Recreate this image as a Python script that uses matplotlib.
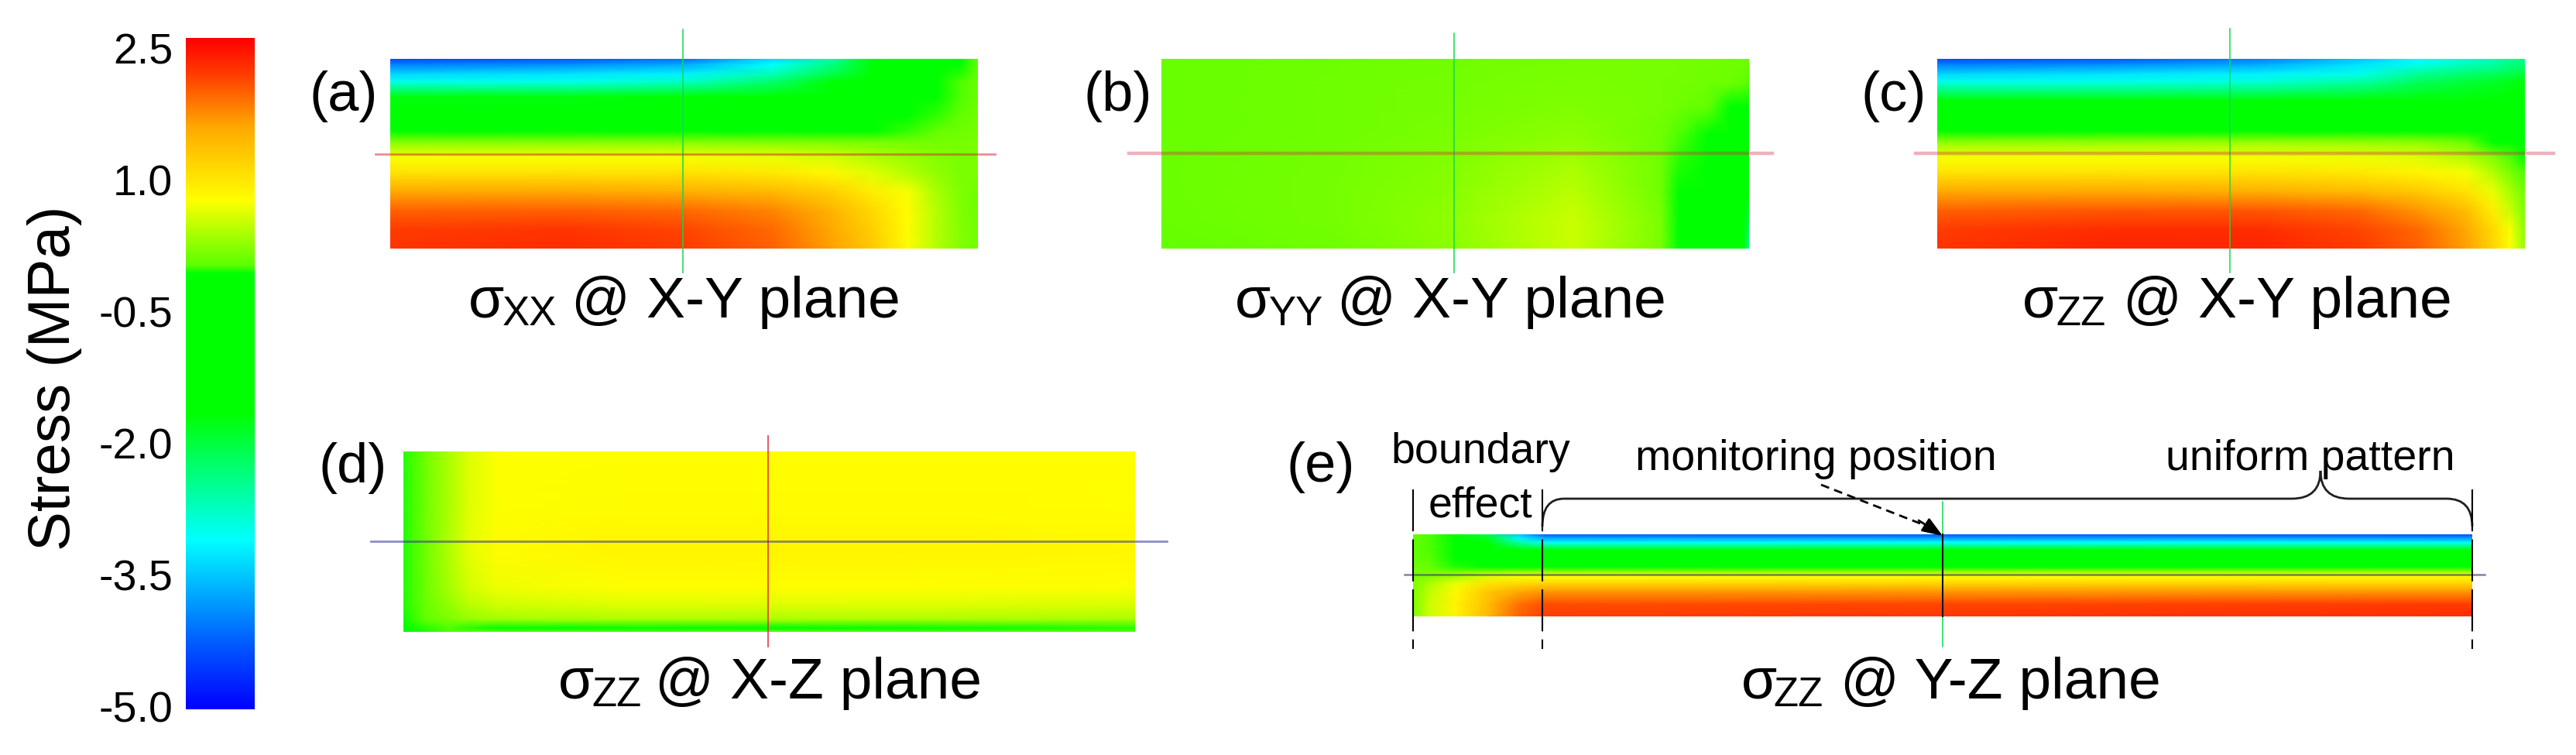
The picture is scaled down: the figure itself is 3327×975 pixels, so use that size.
"""
Stress maps in a cross section, five panels with one shared colour bar
"""

import numpy as np
import matplotlib
matplotlib.use('Agg')
import matplotlib.pyplot as plt
from matplotlib.colors import LinearSegmentedColormap, Normalize
from matplotlib.patches import PathPatch
from matplotlib.path import Path

plt.rcParams['font.family'] = ['Liberation Sans', 'DejaVu Sans']

W, H = 3327, 975

# Colour bar
stress_ticks = [2.5, 1.0, -0.5, -2.0, -3.5, -5.0]
stress_labels = ['2.5', '1.0', '-0.5', '-2.0', '-3.5', '-5.0']
cmap_values = [-5.0, -4.2, -3.11, -1.68, -0.13, -0.04, 0.69, 1.5, 2.1, 2.5]
cmap_colors = ['#0000ff', '#0064ff', '#00ffff', '#00ff00', '#00ff00', '#5aff00',
               '#ffff00', '#ffaa00', '#ff3c00', '#ff0000']

# Panel (a) sigma xx, X-Y plane
xa = [0, .3, .5, .65, .75, .82, .88, .93, .97, 1]
ya = [0, .03, .08, .12, .2, .3, .38, .44, .52, .6, .7, .8, .9, 1]
za = [[-4.4, -4.3, -4.1, -3.4, -2.6, -1.7, -1.3, -1.0, -.4, 0],
      [-4.0, -3.9, -3.7, -3.1, -2.4, -1.7, -1.2, -.9, -.2, 0],
      [-3.4, -3.3, -3.2, -2.7, -2.1, -1.5, -1.1, -.8, -.1, 0],
      [-3.0, -3.0, -2.8, -2.3, -1.7, -1.3, -.9, -.6, -.05, .02],
      [-1.75, -1.75, -1.7, -1.4, -1.1, -.9, -.7, -.4, -.05, .03],
      [-.9, -.9, -.85, -.75, -.65, -.55, -.4, -.08, 0, .05],
      [-.3, -.28, -.25, -.13, -.13, -.13, -.08, 0, .05, .08],
      [.15, .15, .15, .14, .12, .1, .08, .07, .08, .1],
      [.65, .65, .65, .6, .5, .35, .25, .15, .1, .1],
      [.95, .95, .95, .9, .75, .55, .35, .2, .1, .1],
      [1.5, 1.5, 1.45, 1.35, 1.15, .85, .65, .3, .12, .05],
      [1.9, 1.9, 1.85, 1.7, 1.4, 1.05, .72, .35, .12, .05],
      [2.1, 2.15, 2.05, 1.85, 1.5, 1.15, .72, .35, .14, .05],
      [2.15, 2.2, 2.1, 1.9, 1.55, 1.2, .72, .35, .14, .05]]

# Panel (b) sigma yy, X-Y plane
xb = [0, .3, .5, .7, .85, .88, .93, .97, .99, 1]
yb = [0, .13, .25, .4, .55, .7, .85, 1]
zb = [[.02, .04, .06, .08, .08, .08, .07, .06, .05, .03],
      [.02, .05, .07, .1, .08, .07, .05, .03, 0, -.05],
      [.02, .05, .08, .12, .08, .05, 0, -.2, -.3, -.4],
      [.02, .05, .1, .18, .05, -.05, -.3, -.5, -.5, -.6],
      [.03, .07, .14, .3, .05, -.1, -.5, -.7, -.7, -.9],
      [.03, .08, .17, .38, .05, -.13, -.6, -.8, -.9, -1.3],
      [.02, .08, .2, .45, .1, -.13, -.7, -.9, -1.1, -2.0],
      [0, .05, .18, .45, .1, -.13, -.7, -1.0, -1.3, -2.5]]

# Panel (c) sigma zz, X-Y plane
xc = [0, .3, .55, .72, .82, .9, .945, .975, 1]
yc = [0, .03, .08, .12, .22, .3, .38, .44, .52, .6, .7, .8, .9, 1]
zc = [[-4.4, -4.3, -4.0, -3.5, -3.1, -2.9, -2.7, -2.5, -2.4],
      [-4.0, -3.9, -3.7, -3.3, -3.0, -2.7, -2.6, -2.4, -2.3],
      [-3.4, -3.3, -3.2, -3.0, -2.5, -2.3, -2.2, -2.1, -2.0],
      [-3.0, -3.0, -2.9, -2.6, -2.2, -2.0, -1.9, -1.8, -1.7],
      [-1.7, -1.7, -1.7, -1.6, -1.4, -1.3, -1.2, -1.1, -1.1],
      [-.9, -.9, -.9, -.9, -.85, -.8, -.8, -.8, -.8],
      [-.2, -.15, -.13, -.13, -.13, -.3, -.5, -.6, -.6],
      [.2, .22, .25, .22, .2, .05, -.13, -.3, -.4],
      [.65, .65, .65, .62, .55, .35, .15, -.05, -.15],
      [.95, .95, .95, .9, .8, .65, .35, .1, -.05],
      [1.5, 1.5, 1.45, 1.35, 1.2, .95, .6, .3, .05],
      [1.9, 1.95, 1.95, 1.85, 1.6, 1.3, .85, .45, .1],
      [2.1, 2.2, 2.2, 2.05, 1.85, 1.5, 1.05, .65, .15],
      [2.15, 2.25, 2.25, 2.1, 1.9, 1.55, 1.1, .7, .2]]

# Panel (d) sigma zz, X-Z plane
xd = [0, .03, .06, .09, .13, .3, .7, 1]
yd = [0, .3, .55, .75, .85, .93, .98, 1]
zd = [[-.1, .05, .3, .55, .68, .7, .7, .7],
      [-.1, .05, .3, .55, .68, .72, .72, .7],
      [-.1, .05, .32, .58, .72, .78, .78, .75],
      [-.1, .04, .28, .5, .62, .7, .7, .68],
      [-.1, .02, .2, .38, .48, .55, .55, .52],
      [-.12, 0, .1, .22, .28, .32, .32, .3],
      [-.13, -.1, -.05, -.1, -.13, -.13, -.13, -.1],
      [-.13, -.1, -.05, 0, 0, 0, 0, 0]]

# Panel (e) sigma zz, Y-Z plane
xe = [0, .015, .04, .07, .1, .125, 1]
ye = [0, .04, .1, .19, .3, .4, .47, .52, .6, .7, .85, 1]
ze = [[0, -.05, -.6, -2.0, -3.6, -4.3, -4.4],
      [0, -.05, -.6, -1.9, -3.2, -3.8, -3.9],
      [0, -.05, -.5, -1.5, -2.6, -3.1, -3.1],
      [0, -.05, -.4, -1.1, -1.6, -1.7, -1.7],
      [0, -.03, -.3, -.7, -.9, -.9, -.9],
      [.05, .02, -.1, -.15, -.2, -.2, -.2],
      [.1, .1, .15, .3, .35, .35, .4],
      [.1, .15, .3, .55, .65, .7, .75],
      [.1, .3, .6, .95, 1.05, 1.1, 1.1],
      [.1, .4, .75, 1.2, 1.5, 1.6, 1.6],
      [.1, .45, .8, 1.3, 1.8, 2.0, 2.1],
      [.1, .45, .8, 1.35, 1.9, 2.1, 2.2]]

stops = [(v - cmap_values[0]) / (cmap_values[-1] - cmap_values[0]) for v in cmap_values]
stress_cmap = LinearSegmentedColormap.from_list('stress', list(zip(stops, cmap_colors)), N=1024)
norm = Normalize(cmap_values[0], cmap_values[-1])


def add_axes_px(x0, y0, x1, y1):
    """ Adds axes from a box given in pixels, top left origin"""
    return fig.add_axes([x0 / W, 1 - y1 / H, (x1 - x0) / W, (y1 - y0) / H])


def draw_map(box, x, y, z):
    """ Draws one stress map"""
    ax = add_axes_px(*box)
    ax.pcolormesh(x, y, np.array(z), cmap=stress_cmap, norm=norm, shading='gouraud')
    ax.set_xlim(0, 1)
    ax.set_ylim(1, 0)
    ax.axis('off')


def sigma_label(x_sigma, x_sub, x_rest, baseline, sub, rest):
    """ Writes a sigma with its subscript and the plane name"""
    top.text(x_sigma, baseline, '\u03c3', fontsize=54, va='baseline')
    top.text(x_sub, baseline + 10, sub, fontsize=38, va='baseline')
    top.text(x_rest, baseline, rest, fontsize=54, va='baseline')


fig = plt.figure(figsize=(W / 100, H / 100), dpi=100, facecolor='white')

# Colour bar, the ticks sit slightly inside the ends of the bar
bar = add_axes_px(240, 49, 329, 916)
gradient = np.linspace(cmap_values[0], cmap_values[-1], 1024)[:, None]
bar.imshow(gradient, origin='lower', aspect='auto', cmap=stress_cmap, norm=norm,
           extent=(0, 1, -5.03, 2.615))
bar.set_xticks([])
bar.set_yticks(stress_ticks)
bar.set_yticklabels(stress_labels, fontsize=40)
bar.tick_params(axis='y', length=0, pad=12)
for spine in bar.spines.values():
    spine.set_visible(False)

# The five maps
draw_map((504, 76, 1263, 321), xa, ya, za)
draw_map((1500, 76, 2259, 321), xb, yb, zb)
draw_map((2502, 76, 3261, 321), xc, yc, zc)
draw_map((521, 583, 1466, 816), xd, yd, zd)
draw_map((1825, 690, 3193, 796), xe, ye, ze)

# Everything else goes on a full size overlay in pixel coordinates
top = fig.add_axes([0, 0, 1, 1], zorder=5)
top.set_xlim(0, W)
top.set_ylim(H, 0)
top.axis('off')
top.patch.set_alpha(0)

top.text(90, 488, 'Stress (MPa)', fontsize=55, rotation=90, rotation_mode='anchor',
         ha='center', va='baseline')

# Crosshairs
green = '#10d850'
top.plot([882, 882], [38, 352], color=green, lw=1.1)
top.plot([485, 1285], [199, 199], color='#d02030', lw=2.0, alpha=.5)
top.plot([1878, 1878], [43, 352], color=green, lw=1.1)
top.plot([1458, 2289], [198, 198], color='#d02040', lw=3.2, alpha=.35)
top.plot([2880, 2880], [37, 352], color=green, lw=1.1)
top.plot([2474, 3298], [198, 198], color='#d02040', lw=3.2, alpha=.35)
top.plot([992, 992], [563, 835], color='#e03040', lw=1.4, alpha=.8)
top.plot([479, 1507], [699, 699], color='#3030a0', lw=2.0, alpha=.55)
top.plot([1814, 3209], [742, 742], color='#404070', lw=1.8, alpha=.65)
top.plot([2509, 2509], [648, 835], color=green, lw=1.1)
top.plot([2509, 2509], [690, 796], color='black', lw=1.4)

# Dashed limits of the boundary and uniform regions
for x in [1825, 1992, 3193]:
    top.plot([x, x], [632, 838], color='black', lw=1.5, ls=(0, (26, 5)))

# Brace over the uniform pattern
brace = Path([(1992, 680), (1992, 644), (2020, 644), (2960, 644), (2997, 644),
              (2997, 608), (2997, 644), (3034, 644), (3160, 644), (3193, 644),
              (3193, 680)],
             [Path.MOVETO, Path.CURVE3, Path.CURVE3, Path.LINETO, Path.CURVE3,
              Path.CURVE3, Path.CURVE3, Path.CURVE3, Path.LINETO, Path.CURVE3,
              Path.CURVE3])
top.add_patch(PathPatch(brace, facecolor='none', edgecolor='#202020', lw=2.0))

# Arrow to the monitoring position
top.plot([2352, 2480], [626, 676], color='black', lw=2.0, ls=(0, (4, 2.5)))
top.annotate('', xy=(2509, 692), xytext=(2478, 672),
             arrowprops=dict(arrowstyle='-|>,head_length=1.6,head_width=0.6',
                             color='black', lw=2, shrinkA=0, shrinkB=0))

# Panel letters
for x, y, letter in [(400, 143, '(a)'), (1400, 143, '(b)'), (2404, 143, '(c)'),
                     (412, 623, '(d)'), (1662, 622, '(e)')]:
    top.text(x, y, letter, fontsize=52, va='baseline')

# Panel captions
sigma_label(605, 649, 738, 410, 'XX', '@ X-Y plane')
sigma_label(1595, 1639, 1727, 410, 'YY', '@ X-Y plane')
sigma_label(2612, 2655, 2742, 410, 'ZZ', '@ X-Y plane')
sigma_label(721, 764, 846, 902, 'ZZ', '@ X-Z plane')
sigma_label(2249, 2290, 2377, 902, 'ZZ', '@ Y-Z plane')

# Notes on panel (e)
top.text(1912, 598, 'boundary', fontsize=40, ha='center', va='baseline')
top.text(1912, 668, 'effect', fontsize=40, ha='center', va='baseline')
top.text(2345, 607, 'monitoring position', fontsize=40, ha='center', va='baseline')
top.text(2984, 607, 'uniform pattern', fontsize=40, ha='center', va='baseline')

fig.savefig('out.png', dpi=100)
